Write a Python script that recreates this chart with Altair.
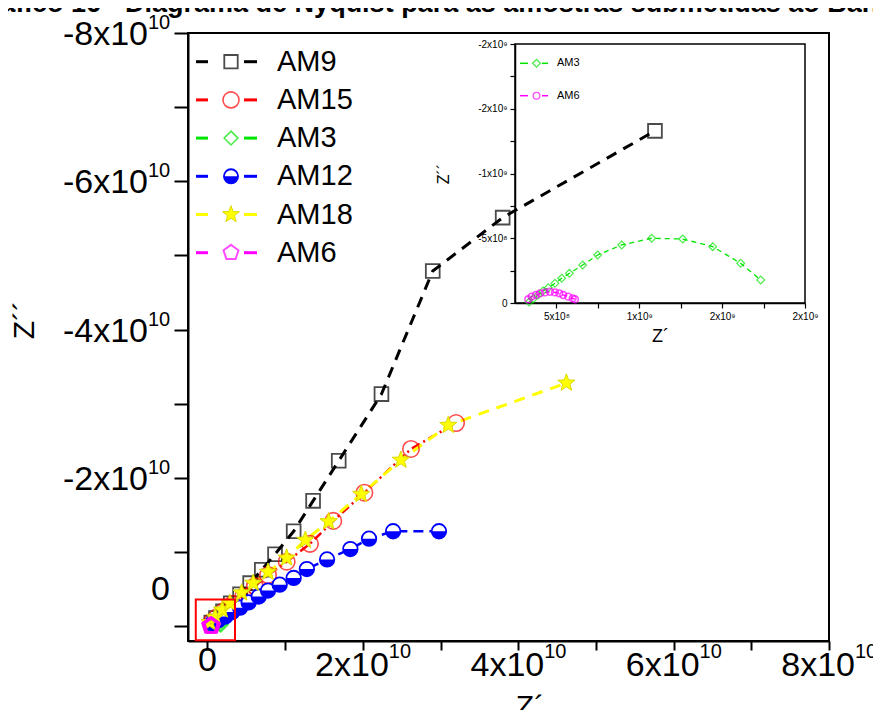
import altair as alt
import pandas as pd

# ---------------- data (ohm) ----------------
SERIES = ["AM9", "AM15", "AM3", "AM12", "AM18", "AM6"]

AM9_ZRE = [0.05e10, 0.11e10, 0.20e10, 0.30e10, 0.42e10, 0.55e10, 0.70e10, 0.87e10,
           1.11e10, 1.36e10, 1.69e10, 2.24e10, 2.90e10, 3.80e10, 5.76e10]
AM9_ZIM = [-0.05e10, -0.11e10, -0.20e10, -0.31e10, -0.43e10, -0.58e10, -0.76e10, -0.97e10,
           -1.28e10, -1.69e10, -2.23e10, -3.13e10, -4.79e10, -5.51e10, -6.68e10]

AM15_ZRE = [0.05e10, 0.12e10, 0.21e10, 0.33e10, 0.46e10, 0.61e10, 0.78e10, 1.02e10,
            1.32e10, 1.62e10, 2.02e10, 2.62e10, 3.20e10]
AM15_ZIM = [-0.05e10, -0.12e10, -0.20e10, -0.30e10, -0.40e10, -0.54e10, -0.69e10, -0.87e10,
            -1.11e10, -1.42e10, -1.80e10, -2.39e10, -2.74e10]

AM3_ZRE = [3.35e8, 3.59e8, 3.89e8, 4.19e8, 4.51e8, 4.91e8, 5.32e8, 5.78e8, 6.58e8, 7.49e8,
           8.94e8, 1.075e9, 1.262e9, 1.443e9, 1.612e9, 1.733e9]
AM3_ZIM = [-0.08e8, -0.31e8, -0.62e8, -0.93e8, -1.18e8, -1.52e8, -1.91e8, -2.29e8, -2.93e8,
           -3.71e8, -4.48e8, -5.00e8, -4.94e8, -4.35e8, -3.07e8, -1.78e8]

AM12_ZRE = [0.06e10, 0.14e10, 0.23e10, 0.32e10, 0.42e10, 0.53e10, 0.66e10, 0.78e10,
            0.93e10, 1.11e10, 1.28e10, 1.54e10, 1.84e10, 2.08e10, 2.39e10, 2.98e10]
AM12_ZIM = [-0.04e10, -0.08e10, -0.13e10, -0.19e10, -0.25e10, -0.32e10, -0.40e10, -0.48e10,
            -0.56e10, -0.65e10, -0.77e10, -0.90e10, -1.04e10, -1.18e10, -1.28e10, -1.28e10]

AM18_ZRE = [0.03e10, 0.10e10, 0.19e10, 0.29e10, 0.44e10, 0.59e10, 0.78e10, 1.02e10,
            1.26e10, 1.56e10, 1.98e10, 2.49e10, 3.10e10, 4.62e10]
AM18_ZIM = [-0.05e10, -0.12e10, -0.22e10, -0.31e10, -0.45e10, -0.58e10, -0.73e10, -0.92e10,
            -1.16e10, -1.41e10, -1.78e10, -2.24e10, -2.71e10, -3.28e10]

AM6_ZRE = [3.30e8, 3.50e8, 3.76e8, 4.01e8, 4.31e8, 4.61e8, 4.91e8, 5.17e8, 5.41e8, 5.71e8,
           5.98e8, 6.12e8]
AM6_ZIM = [-2.9e7, -4.9e7, -6.2e7, -7.5e7, -8.2e7, -8.7e7, -8.2e7, -7.5e7, -6.2e7, -4.9e7,
           -3.6e7, -2.9e7]

# zoom box drawn on the main plot
RED_BOX_ZRE = [-0.15e10, 0.355e10]
RED_BOX_ZIM = [-0.36e10, 0.19e10]

# main axes
MAIN_X_DOMAIN = [-0.25e10, 8e10]
MAIN_Y_DOMAIN = [-8e10, 0.2e10]
X_TICKS = [0, 1e10, 2e10, 3e10, 4e10, 5e10, 6e10, 7e10, 8e10]
Y_TICKS = [0, -1e10, -2e10, -3e10, -4e10, -5e10, -6e10, -7e10, -8e10]
X_LABEL_VALUES = [2e10, 4e10, 6e10, 8e10]
X_LABEL_MAIN = ["2x10", "4x10", "6x10", "8x10"]
Y_LABEL_VALUES = [-8e10, -6e10, -4e10, -2e10]
Y_LABEL_MAIN = ["-8x10", "-6x10", "-4x10", "-2x10"]
EXPONENT = "10"

# inset axes
INSET_X_DOMAIN = [2.5e8, 2e9]
INSET_Y_DOMAIN = [-2e9, 0]
INSET_X_TICKS = [5e8, 7.5e8, 1e9, 1.25e9, 1.5e9, 1.75e9, 2e9]
INSET_Y_TICKS = [0, -2.5e8, -5e8, -7.5e8, -1e9, -1.25e9, -1.5e9, -1.75e9, -2e9]

TITLE = "Gráfico 16 - Diagrama de Nyquist para as amostras submetidas ao Banho"

# ---------------- styling ----------------
W, H = 641, 608
FONT = "Liberation Sans"
COLORS = {"AM9": "#000000", "AM15": "#ff0000", "AM3": "#00e600",
          "AM12": "#0000ff", "AM18": "#ffff00", "AM6": "#ff00ff"}
STAR = ("M0,-1L0.245,-0.337L0.951,-0.309L0.397,0.129L0.588,0.809L0,0.417"
        "L-0.588,0.809L-0.397,0.129L-0.951,-0.309L-0.245,-0.337Z")
PENTA = "M0,-1L0.951,-0.309L0.588,0.809L-0.588,0.809L-0.951,-0.309Z"
HALF = ("M-1,0L-0.924,0.383L-0.707,0.707L-0.383,0.924L0,1L0.383,0.924"
        "L0.707,0.707L0.924,0.383L1,0Z")


def frame(zr, zi):
    return pd.DataFrame({"zr": zr, "zi": zi, "i": list(range(len(zr)))})


# ---------------- main plot ----------------
x_axis = alt.Axis(orient="bottom", values=X_TICKS, labels=False, tickSize=9, tickWidth=2,
                  tickColor="black", domainColor="black", domainWidth=2, grid=False,
                  title=None)
y_axis = alt.Axis(orient="left", values=Y_TICKS, labels=False, tickSize=14, tickWidth=2,
                  tickColor="black", domainColor="black", domainWidth=2, grid=False,
                  title=None)
MX = alt.X("zr:Q", scale=alt.Scale(domain=MAIN_X_DOMAIN, range=[0, W], nice=False,
                                    zero=False), axis=x_axis)
MY = alt.Y("zi:Q", scale=alt.Scale(domain=MAIN_Y_DOMAIN, range=[0, H], nice=False,
                                    zero=False), axis=y_axis)

main_data = {
    "AM9": frame(AM9_ZRE, AM9_ZIM),
    "AM15": frame(AM15_ZRE, AM15_ZIM),
    "AM3": frame(AM3_ZRE, AM3_ZIM),
    "AM12": frame(AM12_ZRE, AM12_ZIM),
    "AM18": frame(AM18_ZRE, AM18_ZIM),
    "AM6": frame(AM6_ZRE, AM6_ZIM),
}
DASH = {"AM9": [11, 8], "AM15": [9, 4, 2, 4], "AM3": [8, 6], "AM12": [10, 6],
        "AM18": [11, 8], "AM6": [8, 6]}
LW = {"AM9": 3, "AM15": 2.5, "AM3": 2.5, "AM12": 2.5, "AM18": 3, "AM6": 2.5}

frame_box = pd.DataFrame({"zr": [MAIN_X_DOMAIN[0]], "zr2": [MAIN_X_DOMAIN[1]],
                          "zi": [MAIN_Y_DOMAIN[0]], "zi2": [MAIN_Y_DOMAIN[1]]})
main_layers = [
    alt.Chart(frame_box).mark_rect(fillOpacity=0, stroke="black", strokeWidth=2)
    .encode(x=MX, x2="zr2", y=MY, y2="zi2")
]
for s in SERIES:
    main_layers.append(
        alt.Chart(main_data[s]).mark_line(color=COLORS[s], strokeDash=DASH[s],
                                          strokeWidth=LW[s])
        .encode(x=MX, y=MY, order="i:Q"))


def marker(s, size_scale=1.0):
    """Return list of mark_point kwargs dicts for a series marker."""
    c = COLORS[s]
    if s == "AM9":
        return [dict(shape="square", filled=False, stroke=c, strokeWidth=1.8, size=190 * size_scale)]
    if s == "AM15":
        return [dict(shape="circle", filled=False, stroke=c, strokeWidth=1.6, size=270 * size_scale)]
    if s == "AM3":
        return [dict(shape="diamond", filled=False, stroke=c, strokeWidth=1.6, size=200 * size_scale)]
    if s == "AM12":
        return [dict(shape="circle", filled=True, fill="white", stroke=c, strokeWidth=1.8,
                     size=210 * size_scale, opacity=1),
                dict(shape=HALF, filled=True, fill=c, strokeWidth=0, size=210 * size_scale, opacity=1)]
    if s == "AM18":
        return [dict(shape=STAR, filled=True, fill=c, stroke="#dada00", strokeWidth=1,
                     size=330 * size_scale, opacity=1)]
    if s == "AM6":
        return [dict(shape=PENTA, filled=False, stroke=c, strokeWidth=2, size=260 * size_scale)]


for s in SERIES:
    for kw in marker(s):
        main_layers.append(alt.Chart(main_data[s]).mark_point(**kw).encode(x=MX, y=MY))

red_box = pd.DataFrame({"zr": [RED_BOX_ZRE[0]], "zr2": [RED_BOX_ZRE[1]],
                        "zi": [RED_BOX_ZIM[0]], "zi2": [RED_BOX_ZIM[1]]})
main_layers.append(
    alt.Chart(red_box).mark_rect(fillOpacity=0, stroke="#ff0000", strokeWidth=2)
    .encode(x=MX, x2="zr2", y=MY, y2="zi2"))

# tick labels with superscript exponent
xl = pd.DataFrame({"zr": X_LABEL_VALUES, "main": X_LABEL_MAIN,
                   "sup": [EXPONENT] * len(X_LABEL_VALUES)})
yl = pd.DataFrame({"zi": Y_LABEL_VALUES, "main": Y_LABEL_MAIN,
                   "sup": [EXPONENT] * len(Y_LABEL_VALUES)})
zero_x = pd.DataFrame({"zr": [0], "t": ["0"]})
zero_y = pd.DataFrame({"zi": [0], "t": ["0"]})

main_layers += [
    alt.Chart(xl).mark_text(align="right", baseline="middle", fontSize=34, dx=26, font=FONT,
                            color="black")
    .encode(x=MX, y=alt.value(H + 25), text="main:N"),
    alt.Chart(xl).mark_text(align="left", baseline="middle", fontSize=20, dx=26, font=FONT,
                            color="black")
    .encode(x=MX, y=alt.value(H + 11), text="sup:N"),
    alt.Chart(zero_x).mark_text(align="center", baseline="middle", fontSize=34, font=FONT,
                                color="black")
    .encode(x=MX, y=alt.value(H + 20), text="t:N"),
    alt.Chart(yl).mark_text(align="right", baseline="middle", fontSize=34, dy=2, font=FONT,
                            color="black")
    .encode(y=MY, x=alt.value(-40), text="main:N"),
    alt.Chart(yl).mark_text(align="left", baseline="middle", fontSize=20, dy=-10, font=FONT,
                            color="black")
    .encode(y=MY, x=alt.value(-40), text="sup:N"),
    alt.Chart(zero_y).mark_text(align="right", baseline="middle", fontSize=34, dy=-36,
                                font=FONT, color="black")
    .encode(y=MY, x=alt.value(-18), text="t:N"),
]

# axis titles and (cropped) figure caption
main_layers += [
    alt.Chart(pd.DataFrame({"t": ["Z´´"]})).mark_text(
        angle=270, fontSize=30, font=FONT, color="black", baseline="middle", align="center")
    .encode(x=alt.value(-163), y=alt.value(287), text="t:N"),
    alt.Chart(pd.DataFrame({"t": ["Z´"]})).mark_text(
        fontSize=30, font=FONT, color="black", baseline="middle", align="center")
    .encode(x=alt.value(342), y=alt.value(674), text="t:N"),
    alt.Chart(pd.DataFrame({"t": [TITLE]})).mark_text(
        fontSize=27, font=FONT, fontWeight="bold", color="black", baseline="alphabetic",
        align="left")
    .encode(x=alt.value(-219), y=alt.value(-21), text="t:N"),
]

main = alt.layer(*main_layers)

# ---------------- inset ----------------
IX0, IX1 = 327, 617
IY0, IY1 = 11, 270
ix_axis = alt.Axis(
    orient="bottom", offset=-(H - IY1), values=INSET_X_TICKS,
    labelExpr=("datum.value == 500000000 ? '5x10⁸' : datum.value == 1000000000 ? '1x10⁹' : "
               "(datum.value == 1500000000 || datum.value == 2000000000) ? '2x10⁹' : ''"),
    labelFontSize=10, labelFont=FONT, labelColor="black", labelFlush=False,
    labelOverlap=False, labelPadding=3, tickSize=5, tickWidth=1.2, tickColor="black",
    domainColor="black", domainWidth=1.5, grid=False, title="Z´", titleFontSize=18,
    titleFont=FONT, titleFontWeight="normal", titleColor="black", titlePadding=6)
iy_axis = alt.Axis(
    orient="left", offset=-IX0, values=INSET_Y_TICKS,
    labelExpr=("datum.value == 0 ? '0' : datum.value == -500000000 ? '-5x10⁸' : "
               "datum.value == -1000000000 ? '-1x10⁹' : "
               "(datum.value == -1500000000 || datum.value == -2000000000) ? '-2x10⁹' : ''"),
    labelFontSize=10, labelFont=FONT, labelColor="black", labelFlush=False,
    labelOverlap=False, labelPadding=3, tickSize=5, tickWidth=1.2, tickColor="black",
    domainColor="black", domainWidth=1.5, grid=False, title="Z´´", titleFontSize=16,
    titleFont=FONT, titleFontWeight="normal", titleColor="black", titlePadding=26)
IXe = alt.X("zr:Q", scale=alt.Scale(domain=INSET_X_DOMAIN, range=[IX0, IX1], nice=False,
                                     zero=False), axis=ix_axis)
IYe = alt.Y("zi:Q", scale=alt.Scale(domain=INSET_Y_DOMAIN, range=[IY0, IY1], nice=False,
                                     zero=False), axis=iy_axis)

inset_box = pd.DataFrame({"zr": [INSET_X_DOMAIN[0]], "zr2": [INSET_X_DOMAIN[1]],
                          "zi": [INSET_Y_DOMAIN[0]], "zi2": [INSET_Y_DOMAIN[1]]})
inset_layers = [
    alt.Chart(inset_box).mark_rect(fillOpacity=0, stroke="black", strokeWidth=1.5)
    .encode(x=IXe, x2="zr2", y=IYe, y2="zi2"),
    alt.Chart(main_data["AM3"]).mark_line(color=COLORS["AM3"], strokeDash=[5, 4], strokeWidth=1.3)
    .encode(x=IXe, y=IYe, order="i:Q"),
    alt.Chart(main_data["AM6"]).mark_line(color=COLORS["AM6"], strokeDash=[5, 4], strokeWidth=1.3)
    .encode(x=IXe, y=IYe, order="i:Q"),
    alt.Chart(main_data["AM3"]).mark_point(shape="diamond", filled=False, stroke=COLORS["AM3"],
                                           strokeWidth=1.2, size=60)
    .encode(x=IXe, y=IYe),
    alt.Chart(main_data["AM6"]).mark_point(shape="circle", filled=False, stroke=COLORS["AM6"],
                                           strokeWidth=1.6, size=45)
    .encode(x=IXe, y=IYe),
]
inset = alt.layer(*inset_layers)

# ---------------- legends ----------------
leg_df = pd.DataFrame({"series": SERIES, "row": list(range(len(SERIES)))})
LEGY = alt.Y("row:Q", scale=alt.Scale(domain=[0, 5], range=[28.7, 219.7]), axis=None)
leg_layers = []
for s in SERIES:
    base = alt.Chart(leg_df).transform_filter(alt.datum.series == s)
    leg_layers.append(base.mark_rule(color=COLORS[s], strokeWidth=3)
                      .encode(x=alt.value(8), x2=alt.value(20), y=LEGY))
    leg_layers.append(base.mark_rule(color=COLORS[s], strokeWidth=3)
                      .encode(x=alt.value(56), x2=alt.value(69), y=LEGY))
    for kw in marker(s, 0.95):
        leg_layers.append(base.mark_point(**kw).encode(x=alt.value(43), y=LEGY))
leg_layers.append(alt.Chart(leg_df).mark_text(align="left", baseline="middle", fontSize=29,
                                              font=FONT, color="black")
                  .encode(x=alt.value(89), y=LEGY, text="series:N"))
legend = alt.layer(*leg_layers)

ileg_df = pd.DataFrame({"series": ["AM3", "AM6"], "row": [0, 1]})
ILEGY = alt.Y("row:Q", scale=alt.Scale(domain=[0, 1], range=[30.3, 62.7]), axis=None)
ileg_layers = []
for s, shp, sz in [("AM3", "diamond", 60), ("AM6", "circle", 45)]:
    base = alt.Chart(ileg_df).transform_filter(alt.datum.series == s)
    ileg_layers.append(base.mark_rule(color=COLORS[s], strokeWidth=1.5)
                       .encode(x=alt.value(332), x2=alt.value(340), y=ILEGY))
    ileg_layers.append(base.mark_rule(color=COLORS[s], strokeWidth=1.5)
                       .encode(x=alt.value(354), x2=alt.value(360), y=ILEGY))
    ileg_layers.append(base.mark_point(shape=shp, filled=False, stroke=COLORS[s],
                                       strokeWidth=1.3, size=sz)
                       .encode(x=alt.value(348.5), y=ILEGY))
ileg_layers.append(alt.Chart(ileg_df).mark_text(align="left", baseline="middle", fontSize=11,
                                               font=FONT, color="black")
                   .encode(x=alt.value(369), y=ILEGY, text="series:N"))
ilegend = alt.layer(*ileg_layers)

chart = (
    alt.layer(main, inset, legend, ilegend)
    .resolve_scale(x="independent", y="independent")
    .properties(width=W, height=H,
                padding={"left": 180, "top": 25, "right": 44, "bottom": 69},
                autosize=alt.AutoSizeParams(type="none"))
    .configure_view(stroke="black", strokeWidth=2)
    .configure(font=FONT, background="white")
)

chart.save("out.html", embed_options={"renderer": "svg", "actions": False})
